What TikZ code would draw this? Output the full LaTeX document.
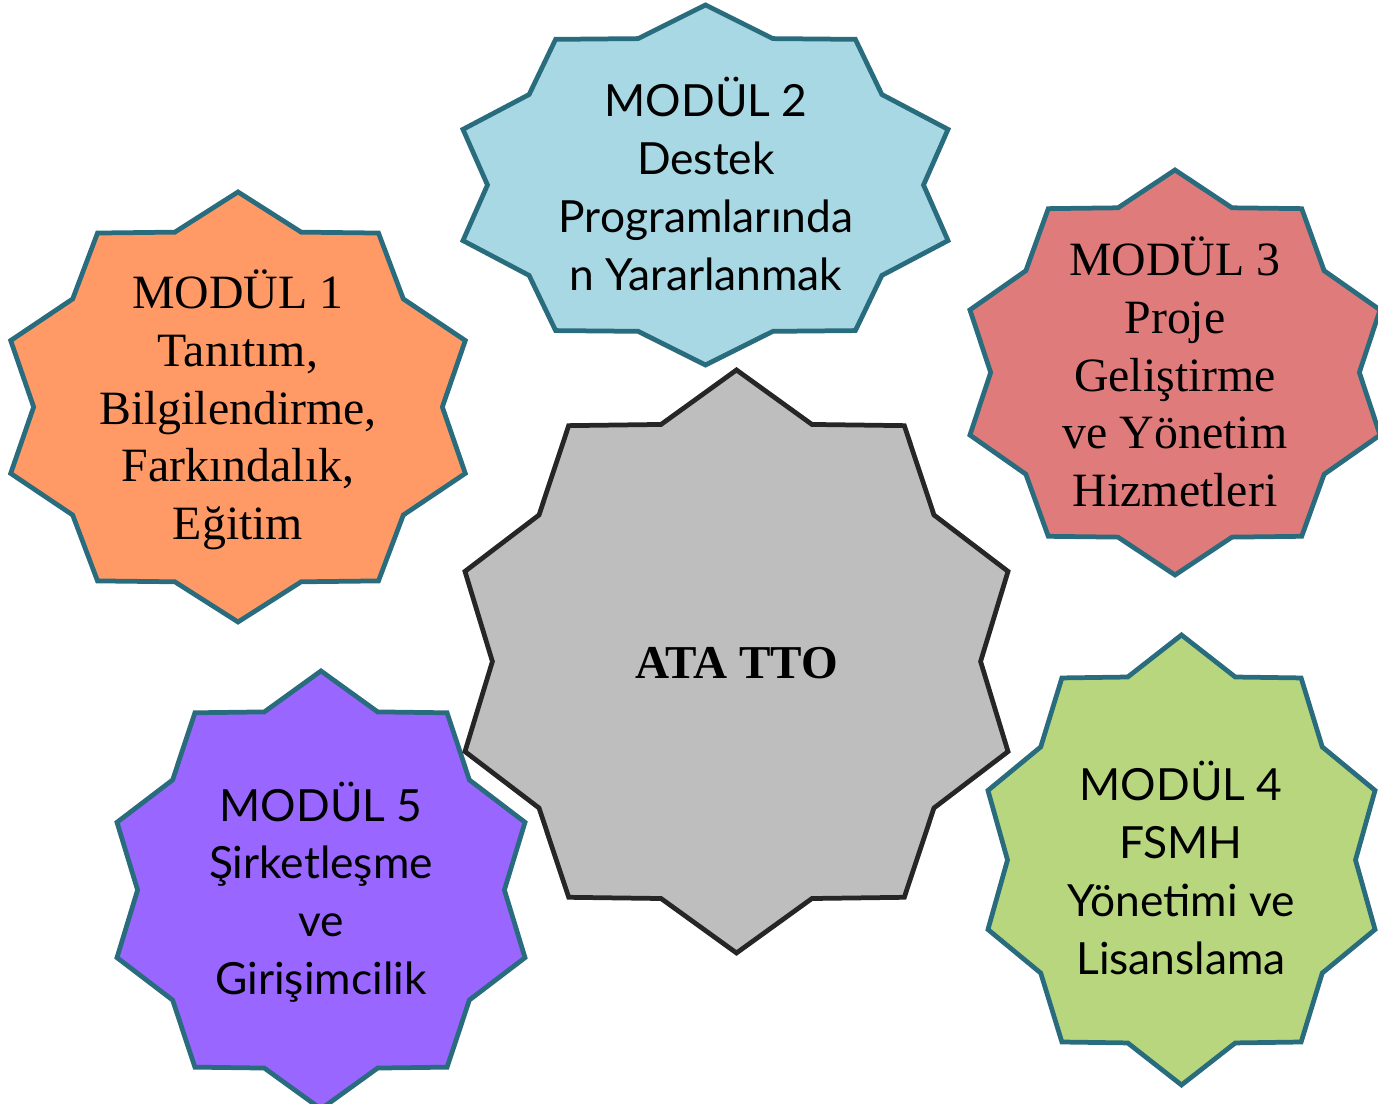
\documentclass[tikz,border=0pt]{standalone}
\usepackage{fontspec}
\setmainfont{Liberation Serif}
\newfontfamily\gillfont{Lato}
\usetikzlibrary{calc}

\definecolor{modedge}{HTML}{296C7D}
\definecolor{modorange}{HTML}{FF9966}
\definecolor{modblue}{HTML}{A8D8E3}
\definecolor{modred}{HTML}{E07B7B}
\definecolor{modgreen}{HTML}{B8D67E}
\definecolor{modpurple}{HTML}{9966FF}
\definecolor{hubgray}{HTML}{BEBEBE}

\tikzset{
  modstar/.style={draw=modedge, line width=1.35pt, line join=miter},
  hubstar/.style={draw=black!85, line width=1.35pt, fill=hubgray},
  serifmod/.style={align=center, font=\fontsize{13.6}{16.4}\selectfont},
  sansmod/.style={align=center, font=\gillfont\fontsize{12.6}{16.4}\selectfont},
}

% ten pointed star: centre x, centre y, x radius, y radius, style
\newcommand{\tenstar}[5]{%
  \begin{scope}[shift={(#1,#2)}]
    \draw[#5] (90:#3 and #4)
      \foreach \i [evaluate=\i as \f using {1-0.145*mod(\i,2)}] in {1,...,19}
        { -- ({90+18*\i}:{\f*#3} and {\f*#4}) } -- cycle;
  \end{scope}}

\begin{document}
\begin{tikzpicture}[x=0.01cm,y=0.01cm]
\useasboundingbox (0,0) rectangle (1378,1104);
\clip (0,0) rectangle (1378,1104);
% modules round the hub
\tenstar{238}{697}{239}{215}{modstar, fill=modorange}
\tenstar{705.5}{919}{255}{180}{modstar, fill=modblue}
\tenstar{1175}{731.5}{215.6}{202.5}{modstar, fill=modred}
\tenstar{1181.5}{244}{203.5}{225}{modstar, fill=modgreen}
\tenstar{321}{214}{214.5}{219}{modstar, fill=modpurple}
% hub
\tenstar{736.5}{442.5}{285.5}{291.5}{hubstar}

\node[serifmod] (mod1) at (238,694) {MODÜL 1\\Tanıtım,\\Bilgilendirme,\\Farkındalık,\\Eğitim};
\node[sansmod] (mod2) at (706,920) {MODÜL 2\\Destek\\Programlarında\\n Yararlanmak};
\node[serifmod] (mod3) at (1175,732) {MODÜL 3\\Proje\\Geliştirme\\ve Yönetim\\Hizmetleri};
\node[sansmod] (mod4) at (1181,236) {MODÜL 4\\FSMH\\Yönetimi ve\\Lisanslama};
\node[sansmod] (mod5) at (321,212) {MODÜL 5\\Şirketleşme\\ve\\Girişimcilik};
\node[font=\bfseries\fontsize{13.4}{16}\selectfont] (hub) at (736.5,441) {ATA TTO};
\end{tikzpicture}
\end{document}
